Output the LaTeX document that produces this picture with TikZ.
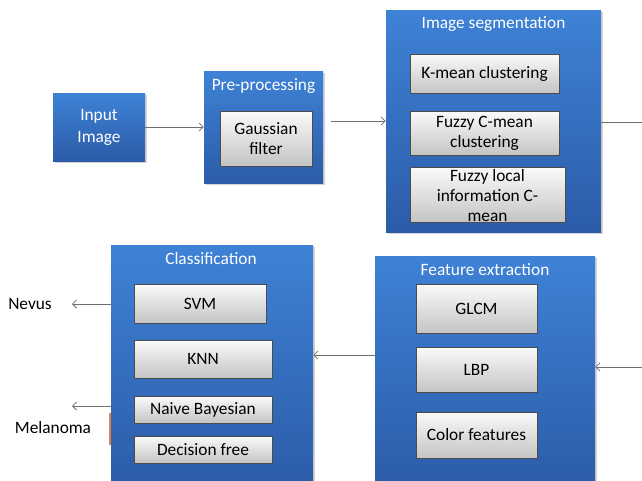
\documentclass[tikz,border=0pt]{standalone}
\usepackage{fontspec}
\setmainfont{Carlito}
\usetikzlibrary{fit,shadows,arrows.meta}
\definecolor{btop}{RGB}{62,130,214}
\definecolor{bbot}{RGB}{44,92,168}
\definecolor{gtop}{RGB}{250,250,250}
\definecolor{gbot}{RGB}{196,196,196}
\definecolor{arrgray}{RGB}{110,110,110}
\definecolor{orangeline}{RGB}{226,130,70}
\tikzset{
  bluebox/.style={draw=none, top color=btop, bottom color=bbot, inner sep=0pt,
    drop shadow={shadow xshift=1.2pt, shadow yshift=-1.2pt, opacity=0.35}},
  greybox/.style={draw=black!70, line width=0.6pt, top color=gtop, bottom color=gbot,
    inner sep=0pt,
    drop shadow={shadow xshift=1pt, shadow yshift=-1pt, opacity=0.4}},
  boxtext/.style={text=black, align=center, inner sep=0pt,
    font=\fontsize{13}{15}\selectfont},
  title/.style={text=white, font=\fontsize{13}{15}\selectfont, inner sep=0pt},
  whitetext/.style={text=white, align=center, inner sep=0pt,
    font=\fontsize{13}{16.5}\selectfont},
  plain/.style={text=black, font=\fontsize{13}{15}\selectfont, inner sep=0pt},
  arr/.style={draw=arrgray, line width=0.6pt, -{Straight Barb[length=3pt,width=6pt]}},
  ln/.style={draw=arrgray, line width=0.6pt}
}
\begin{document}
\begin{tikzpicture}[x=0.75pt,y=-0.75pt]
\useasboundingbox (0,0) rectangle (642,480);
% top row
\node[bluebox, fit={(53,93) (145,161)}] (inp) {};
\node[whitetext] (inpt) at (inp.center) {Input\\Image};
\node[bluebox, fit={(204,71) (323,183)}] (pre) {};
\node[title] (pret) at (263.5,86) {Pre-processing};
\node[greybox, fit={(220,111) (312,166)}] (gauss) {};
\node[boxtext] (gausst) at (gauss.center) {Gaussian\\filter};
\node[bluebox, fit={(386,10) (601,232)}] (seg) {};
\node[title] (segt) at (493.5,24) {Image segmentation};
\node[greybox, fit={(410,54) (559,93)}] (kmean) {};
\node[boxtext] (kmeant) at (kmean.center) {K-mean clustering};
\node[greybox, fit={(410,111) (559,155)}] (fcm) {};
\node[boxtext] (fcmt) at (fcm.center) {Fuzzy C-mean\\clustering};
\node[greybox, fit={(410,167) (565,222)}] (flicm) {};
\node[boxtext] (flicmt) at ([yshift=-0.5pt]flicm.center) {Fuzzy local\\information C-\\mean};
% bottom row
\node[bluebox, fit={(111,245) (313,484)}] (cls) {};
\node[title] (clst) at (211,259) {Classification};
\node[greybox, fit={(134,284) (266,323)}] (svm) {};
\node[boxtext] (svmt) at (svm.center) {SVM};
\node[greybox, fit={(134,340) (272,378)}] (knn) {};
\node[boxtext] (knnt) at (knn.center) {KNN};
\node[greybox, fit={(134,396) (272,423)}] (nb) {};
\node[boxtext] (nbt) at (nb.center) {Naive Bayesian};
\node[greybox, fit={(134,436) (272,463)}] (dt) {};
\node[boxtext] (dtt) at (dt.center) {Decision free};
\node[bluebox, fit={(375,256) (595,484)}] (fe) {};
\node[title] (fet) at (485,270) {Feature extraction};
\node[greybox, fit={(416,284) (537,333)}] (glcm) {};
\node[boxtext] (glcmt) at (glcm.center) {GLCM};
\node[greybox, fit={(416,347) (537,392)}] (lbp) {};
\node[boxtext] (lbpt) at (lbp.center) {LBP};
\node[greybox, fit={(416,412) (537,458)}] (colf) {};
\node[boxtext] (colft) at (colf.center) {Color features};
% outputs
\node[plain] (nevus) at (30,304) {Nevus};
\node[plain] (mela) at (53,428) {Melanoma};
\coordinate (nevtip) at (72,304);
\coordinate (meltip) at (72,406);
\coordinate (segout) at (642,122);
\coordinate (fein) at (642,367);
\coordinate (midy) at (0,355);
% connectors
\draw[arr] (inp.east) -- (pre.west);
\draw[arr] ([xshift=5.5pt]pre.east |- seg.west) -- (seg.west);
\draw[ln] (seg.east |- segout) -- (segout);
\draw[arr] (fein) -- (fe.east |- fein);
\draw[arr] (fe.west |- midy) -- (cls.east |- midy);
\draw[arr] (cls.west |- nevtip) -- (nevtip);
\draw[arr] (cls.west |- meltip) -- (meltip);
\draw[orangeline, line width=1pt] (110,413) -- (110,445);
\end{tikzpicture}
\end{document}
